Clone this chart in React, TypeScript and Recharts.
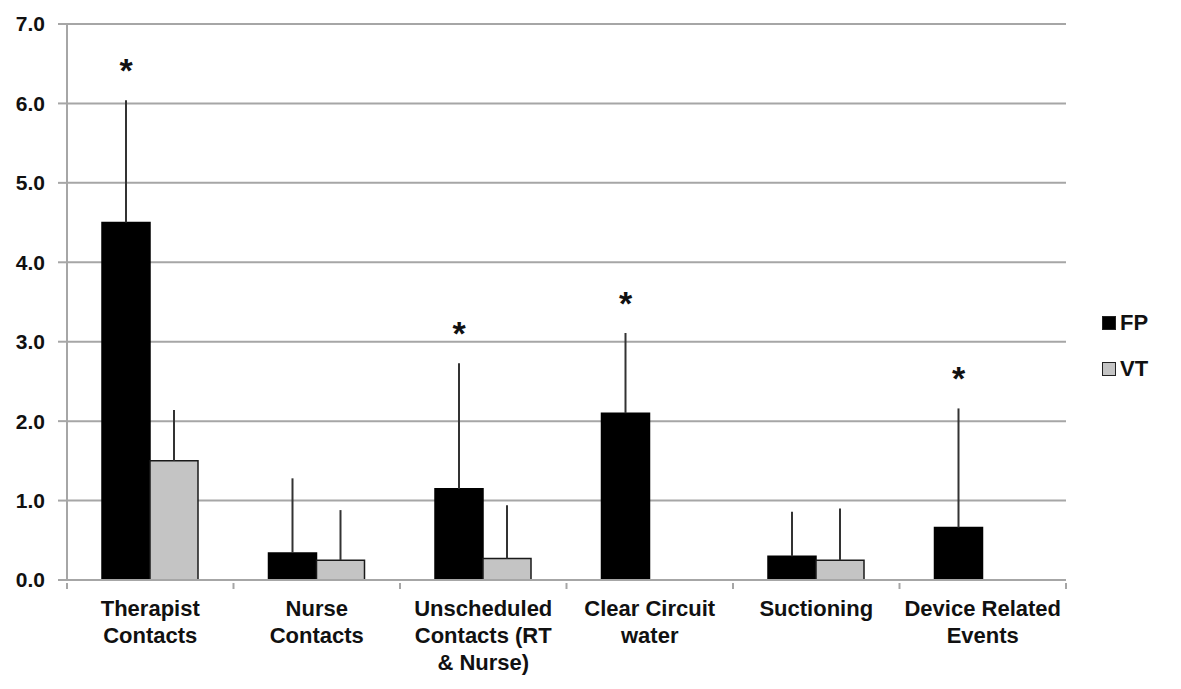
import React from "react";
import {
  BarChart,
  Bar,
  XAxis,
  YAxis,
  CartesianGrid,
  ErrorBar,
  LabelList,
} from "recharts";

const categories = [
  "Therapist Contacts",
  "Nurse Contacts",
  "Unscheduled Contacts (RT & Nurse)",
  "Clear Circuit water",
  "Suctioning",
  "Device Related Events",
];
// wrapped tick lines, one entry per category
const tickLines = [
  ["Therapist", "Contacts"],
  ["Nurse", "Contacts"],
  ["Unscheduled", "Contacts (RT", "& Nurse)"],
  ["Clear Circuit", "water"],
  ["Suctioning"],
  ["Device Related", "Events"],
];
const fpValues = [4.5, 0.34, 1.15, 2.1, 0.3, 0.66];
const vtValues = [1.5, 0.25, 0.27, 0, 0.25, 0];
const fpErrors = [1.54, 0.94, 1.58, 1.01, 0.56, 1.5];
const vtErrors = [0.64, 0.63, 0.67, null, 0.65, null];
const significant = [true, false, true, true, false, true];
const yTicks = [0, 1, 2, 3, 4, 5, 6, 7];

const data = categories.map((name, i) => ({
  name,
  FP: fpValues[i],
  VT: vtValues[i],
  fpErr: [0, fpErrors[i]],
  vtErr: vtErrors[i] == null ? null : [0, vtErrors[i]],
}));

const FONT = "'Liberation Sans', Arial, sans-serif";
const GRID = "#a6a6a6";
const BAND = 166.5;

const XTick = (props: any) => {
  const { x, y, payload, index } = props;
  const lines = tickLines[payload.index ?? index] || [];
  const last = (payload.index ?? index) === categories.length - 1;
  return (
    <g>
      <line x1={x - BAND / 2} x2={x - BAND / 2} y1={y - 5} y2={y + 1} stroke={GRID} strokeWidth={2} />
      {last && (
        <line x1={x + BAND / 2} x2={x + BAND / 2} y1={y - 5} y2={y + 1} stroke={GRID} strokeWidth={2} />
      )}
      <text
        x={x}
        y={y + 28}
        textAnchor="middle"
        fontFamily={FONT}
        fontWeight="bold"
        fontSize={22}
        fill="#111"
      >
        {lines.map((l: string, k: number) => (
          <tspan key={k} x={x} dy={k === 0 ? 0 : 27}>
            {l}
          </tspan>
        ))}
      </text>
    </g>
  );
};

const Star = (props: any) => {
  const { x, y, width, height, index, value } = props;
  if (!significant[index]) return null;
  const perUnit = height / value;
  const errTop = y - fpErrors[index] * perUnit;
  return (
    <text
      x={x + width / 2}
      y={errTop - 18}
      textAnchor="middle"
      fontFamily={FONT}
      fontWeight="bold"
      fontSize={34}
      fill="#111"
    >
      *
    </text>
  );
};

const Legend = () => (
  <div style={{ position: "absolute", left: 1102, top: 310, fontFamily: FONT, fontWeight: "bold", fontSize: 22 }}>
    {[
      { label: "FP", color: "#000" },
      { label: "VT", color: "#c4c4c4" },
    ].map((it, i) => (
      <div key={it.label} style={{ display: "flex", alignItems: "center", height: 26, marginBottom: i === 0 ? 20 : 0 }}>
        <span
          style={{
            display: "inline-block",
            width: 12,
            height: 12,
            background: it.color,
            border: "1px solid #222",
            marginRight: 4,
          }}
        />
        <span style={{ color: "#111" }}>{it.label}</span>
      </div>
    ))}
  </div>
);

export default function App() {
  return (
    <div style={{ position: "absolute", left: 0, top: 0, width: 1181, height: 689, background: "#fff" }}>
      <BarChart
        width={1181}
        height={689}
        data={data}
        margin={{ top: 24, right: 115, left: 0, bottom: 0 }}
        barGap={0}
        barSize={48}
      >
        <CartesianGrid vertical={false} stroke={GRID} strokeWidth={2} />
        <XAxis
          dataKey="name"
          height={109}
          interval={0}
          tickLine={false}
          axisLine={{ stroke: GRID, strokeWidth: 2 }}
          tick={<XTick />}
        />
        <YAxis
          width={67}
          domain={[0, 7]}
          ticks={yTicks}
          interval={0}
          tickSize={9}
          tickMargin={13}
          tickLine={{ stroke: GRID, strokeWidth: 2 }}
          axisLine={{ stroke: GRID, strokeWidth: 2 }}
          tickFormatter={(v: number) => v.toFixed(1)}
          tick={{ fontFamily: FONT, fontWeight: "bold", fontSize: 21, fill: "#111" }}
        />
        <Bar dataKey="FP" fill="#000" stroke="#000" strokeWidth={1.5} isAnimationActive={false}>
          <ErrorBar dataKey="fpErr" width={0} stroke="#333" strokeWidth={2} />
          <LabelList dataKey="FP" content={<Star />} />
        </Bar>
        <Bar dataKey="VT" fill="#c4c4c4" stroke="#1a1a1a" strokeWidth={1.5} isAnimationActive={false}>
          <ErrorBar dataKey="vtErr" width={0} stroke="#333" strokeWidth={2} />
        </Bar>
      </BarChart>
      <Legend />
    </div>
  );
}
